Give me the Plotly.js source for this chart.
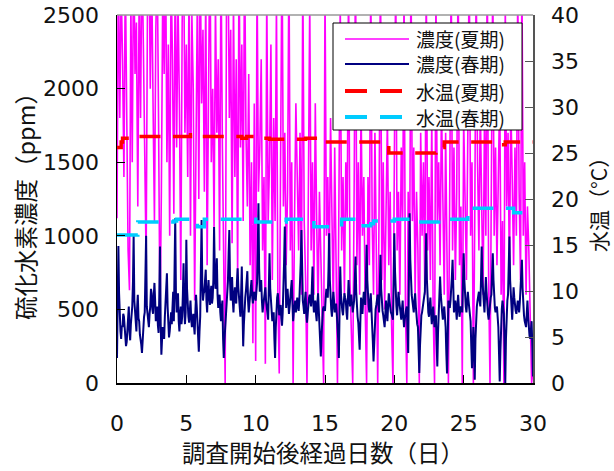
<!DOCTYPE html>
<html>
<head>
<meta charset="utf-8">
<script src="https://cdn.plot.ly/plotly-3.0.1.min.js"></script>
<style>
  html, body { margin: 0; padding: 0; background: #fff; }
  #chart { width: 614px; height: 471px; }
</style>
</head>
<body>
<div id="chart"></div>
<script>
// Sampling intervals of the concentration logs (days)
const SUMMER_STEP_DAYS = 0.1;
const SPRING_STEP_DAYS = 0.05;

// H2S concentration, summer campaign (ppm), one value per 0.1 day
const summerConc = [
  1120, 2900, 1800, 2700, 2200, 1400, 2800, 1900, 900, 630,
  2600, 1500, 3000, 2100, 2450, 1200, 2700, 1800, 2950, 2300,
  1600, 820, 2600, 3100, 2000, 2800, 1900, 1100, 2400, 2900,
  1750, 390, 1300, 2700, 2100, 3000, 1500, 2300, 1000, 2800,
  2200, 1150, 2900, 1600, 2600, 1900, 700, 2450, 3000, 1700,
  2300, 1400, 2800, 1000, 2500, 2000, 560, 1800, 2700, 1250,
  2900, 1900, 2400, 1300, 2700, 800, 2100, 3100, 1500, 2000,
  1050, 2600, 1700, 2200, 900, 2900, 1600, 700, 0, 2700,
  3000, 1800, 2400, 950, 2600, 1400, 2200, 720, 2900, 1600,
  2300, 1100, 3000, 1700, 1200, 2100, 800, 1500, 270, 1900,
  150, 2800, 1300, 1600, 2200, 900, 1400, 130, 2700, 1100,
  1500, 2300, 700, 1800, 1100, 2600, 600, 65, 1500, 3000,
  1200, 1700, 800, 1300, 2900, 900, 1500, 0, 1100, 1900,
  1400, 900, 1700, 600, 2800, 1100, 700, 0, 1300, 2600,
  900, 1500, 600, 1900, 1100, 500, 1300, 800, 300, 0,
  2700, 1000, 1400, 700, 1800, 1200, 500, 1600, 800, 0,
  1200, 2600, 900, 1400, 600, 1500, 1100, 2800, 700, 300,
  0, 1300, 2900, 800, 1500, 600, 1900, 1000, 1400, 500,
  0, 1400, 800, 2800, 1100, 600, 1700, 900, 0, 1200,
  2900, 700, 1500, 500, 1200, 1800, 800, 1300, 400, 0,
  1500, 2800, 900, 1300, 600, 1600, 1100, 2700, 500, 0,
  1300, 700, 2900, 1100, 1600, 600, 1300, 900, 0, 1700,
  1000, 1500, 600, 2800, 900, 1400, 700, 1800, 500, 0,
  2700, 1100, 1500, 800, 1900, 1300, 600, 1700, 1000, 0,
  1400, 2800, 900, 1600, 700, 1300, 2900, 800, 1200, 0,
  1800, 1300, 700, 1700, 2900, 1000, 1500, 0, 1100, 2800,
  1500, 900, 1900, 1200, 600, 1800, 1000, 2900, 700, 0,
  1400, 2800, 1000, 1600, 800, 1300, 2000, 600, 1100, 0,
  2600, 1200, 1700, 700, 1900, 1400, 800, 1600, 1000, 2700,
  1300, 700, 2800, 1000, 1500, 600, 1200, 900, 500, 0,
  80
];

// H2S concentration, spring campaign (ppm), one value per 0.05 day
const springConc = [
  170, 560, 930, 610, 420, 350, 300, 390, 380, 470, 450, 360, 330, 250, 280, 400, 460, 520, 350, 290,
  400, 470, 520, 680, 1000, 560, 480, 390, 350, 510, 600, 440, 420, 330, 300, 260, 204, 310, 360, 450,
  480, 760, 1000, 520, 450, 400, 380, 470, 520, 640, 610, 500, 470, 590, 680, 560, 420, 500, 520, 390,
  340, 600, 927, 410, 192, 300, 380, 330, 300, 450, 560, 640, 745, 520, 400, 310, 350, 420, 480, 400,
  560, 620, 420, 780, 1120, 620, 480, 550, 610, 420, 350, 470, 520, 400, 450, 600, 813, 520, 400, 480,
  973, 640, 520, 450, 410, 530, 560, 440, 380, 420, 470, 390, 330, 480, 600, 520, 420, 300, 213, 350,
  450, 780, 1108, 680, 560, 610, 620, 700, 770, 560, 480, 620, 700, 590, 530, 610, 660, 540, 580, 700,
  1060, 760, 640, 700, 848, 600, 510, 560, 600, 480, 420, 510, 560, 300, 170, 290, 380, 450, 520, 610,
  690, 880, 1040, 700, 560, 640, 720, 560, 480, 590, 650, 560, 540, 690, 780, 650, 600, 500, 450, 610,
  792, 500, 249, 400, 520, 580, 630, 700, 760, 560, 480, 540, 590, 660, 700, 590, 540, 600, 620, 580,
  560, 620, 680, 900, 1221, 780, 620, 680, 700, 560, 480, 530, 580, 640, 650, 560, 510, 470, 430, 650,
  882, 640, 560, 500, 420, 450, 480, 300, 170, 380, 520, 580, 610, 520, 460, 500, 530, 440, 390, 480,
  600, 820, 1063, 700, 510, 580, 640, 560, 470, 520, 560, 640, 700, 520, 420, 480, 520, 560, 480, 530,
  580, 520, 490, 560, 650, 820, 1040, 700, 560, 520, 470, 560, 620, 480, 410, 470, 540, 580, 600, 560,
  520, 640, 792, 560, 480, 520, 560, 470, 420, 540, 610, 500, 380, 260, 181, 320, 450, 500, 520, 500,
  490, 580, 640, 600, 580, 760, 1018, 700, 560, 500, 450, 540, 620, 560, 480, 520, 540, 470, 410, 300,
  170, 480, 792, 600, 520, 490, 460, 540, 610, 580, 560, 480, 430, 560, 700, 600, 520, 560, 600, 540,
  480, 520, 560, 700, 860, 620, 500, 450, 410, 300, 226, 420, 580, 520, 470, 560, 620, 580, 530, 700,
  939, 700, 560, 520, 480, 560, 610, 500, 420, 280, 147, 300, 450, 500, 530, 580, 600, 540, 480, 650,
  871, 640, 520, 490, 460, 420, 380, 470, 560, 480, 420, 520, 610, 560, 500, 480, 470, 450, 430, 700,
  1018, 760, 580, 520, 460, 540, 620, 560, 500, 460, 430, 500, 560, 450, 380, 430, 480, 500, 520, 380,
  204, 700, 1154, 840, 620, 600, 560, 520, 480, 560, 610, 520, 420, 400, 380, 200, 68, 250, 420, 460,
  480, 520, 560, 600, 620, 800, 1018, 700, 520, 480, 450, 520, 580, 480, 400, 460, 520, 450, 380, 420,
  460, 260, 113, 340, 540, 620, 724, 600, 560, 480, 430, 480, 520, 450, 380, 200, 65, 300, 560, 530,
  510, 560, 620, 720, 837, 620, 480, 520, 560, 500, 430, 520, 600, 520, 450, 490, 520, 500, 480, 680,
  882, 700, 560, 520, 480, 550, 620, 560, 500, 460, 420, 250, 100, 240, 380, 200, 23, 300, 470, 520,
  560, 590, 620, 560, 520, 700, 927, 700, 600, 540, 480, 600, 720, 620, 520, 470, 430, 500, 560, 580,
  600, 740, 882, 700, 540, 510, 480, 500, 520, 450, 380, 200, 11, 220, 420, 500, 560, 520, 470, 250,
  0, 300, 520, 560, 600, 800, 995, 700, 560, 490, 430, 540, 650, 580, 520, 490, 470, 520, 560, 520,
  480, 550, 620, 720, 837, 640, 500, 460, 420, 400, 380, 470, 560, 450, 340, 320, 300, 380, 420, 250,
  45
];

// Water temperature (°C): day on which each reading starts, and the reading
const summerTempDays = [0, 0.3, 0.4, 1.0, 5.3, 5.8, 9.0, 9.35, 10.2, 11.0, 13.6, 14.3, 19.2, 19.6, 23.0, 23.2, 23.6, 27.1, 28.0, 30];
const summerTemp     = [25.6, 26.2, 26.6, 26.8, 27.0, 26.8, 26.6, 26.8, 26.6, 26.5, 26.6, 26.2, 25.9, 25.0, 25.3, 25.6, 26.2, 25.9, 26.2, 26.2];
const springTempDays = [0, 1.5, 4.1, 4.3, 5.8, 6.3, 10.0, 12.2, 14.2, 16.2, 17.3, 18.3, 18.5, 20.0, 21.2, 23.2, 25.3, 28.6, 30];
const springTemp     = [16.1, 17.5, 17.6, 17.8, 17.0, 17.8, 17.5, 17.8, 17.0, 17.8, 17.1, 17.3, 17.6, 17.8, 17.5, 17.8, 19.0, 18.5, 18.5];

// Axis ticks
const dayTicks = [0, 5, 10, 15, 20, 25, 30];
const concTicks = [0, 500, 1000, 1500, 2000, 2500];
const tempTicks = [0, 5, 10, 15, 20, 25, 30, 35, 40];

// Labels
const seriesNames = ['濃度(夏期)', '濃度(春期)', '水温(夏期)', '水温(春期)'];
const xTitle = '調査開始後経過日数（日）';
const yTitle = '硫化水素濃度（ppm）';
const y2Title = '水温（°C）';

const FONT = '"Noto Sans CJK JP", "Noto Sans", sans-serif';
const NUM_FONT = '"DejaVu Sans", "Liberation Sans", sans-serif';
const MAGENTA = '#FF00FF', NAVY = '#000080', RED = '#FF0000', CYAN = '#00CCFF';
const TEMP_DASH = '21px,12.5px';

const summerDays = summerConc.map((_, i) => +(i * SUMMER_STEP_DAYS).toFixed(2));
const springDays = springConc.map((_, i) => +(i * SPRING_STEP_DAYS).toFixed(2));

// plot-area geometry in pixels (for the hand-placed legend and titles)
const W = 614, H = 471, L = 117, R = 533, T = 15, B = 383;
const px = x => (x - L) / (R - L);
const py = y => (B - y) / (B - T);

const traces = [
  { x: summerDays, y: summerConc, type: 'scatter', mode: 'lines', name: seriesNames[0],
    line: { color: MAGENTA, width: 1.6 }, yaxis: 'y' },
  { x: springDays, y: springConc, type: 'scatter', mode: 'lines', name: seriesNames[1],
    line: { color: NAVY, width: 2 }, yaxis: 'y' },
  { x: summerTempDays, y: summerTemp, type: 'scatter', mode: 'lines', name: seriesNames[2],
    line: { color: RED, width: 3.5, dash: TEMP_DASH, shape: 'hv' }, yaxis: 'y2' },
  { x: springTempDays, y: springTemp, type: 'scatter', mode: 'lines', name: seriesNames[3],
    line: { color: CYAN, width: 3.5, dash: TEMP_DASH, shape: 'hv' }, yaxis: 'y2' }
];

// legend drawn as shapes + annotations
const legendRows = [
  { y: 39, color: MAGENTA, width: 1.5, dash: 'solid', x1: 409 },
  { y: 64, color: NAVY, width: 2, dash: 'solid', x1: 409 },
  { y: 91, color: RED, width: 4, dash: '22px,13px', x1: 402 },
  { y: 117, color: CYAN, width: 4, dash: '22px,13px', x1: 402 }
];

const shapes = [
  // top frame edge
  { type: 'line', xref: 'paper', yref: 'paper', x0: 0, x1: 1, y0: 1, y1: 1,
    line: { color: '#999', width: 1.5 }, layer: 'above' },
  // legend box
  { type: 'rect', xref: 'paper', yref: 'paper', x0: px(333), x1: px(522), y0: py(23), y1: py(130),
    line: { color: '#000', width: 1 }, fillcolor: '#fff', layer: 'above' }
];
legendRows.forEach(r => shapes.push({
  type: 'line', xref: 'paper', yref: 'paper', x0: px(345), x1: px(r.x1), y0: py(r.y), y1: py(r.y),
  line: { color: r.color, width: r.width, dash: r.dash }, layer: 'above'
}));

const annotations = legendRows.map((r, i) => ({
  xref: 'paper', yref: 'paper', x: px(414), y: py(r.y), xanchor: 'left', yanchor: 'middle',
  text: seriesNames[i], showarrow: false, font: { family: FONT, size: 19, color: '#111' }
}));
annotations.push(
  { xref: 'paper', yref: 'paper', x: px(323), y: py(452), xanchor: 'center', yanchor: 'middle',
    text: xTitle, showarrow: false, font: { family: FONT, size: 23.5, color: '#111' } },
  { xref: 'paper', yref: 'paper', x: px(25), y: py(201), xanchor: 'center', yanchor: 'middle',
    text: yTitle, textangle: -90, showarrow: false, font: { family: FONT, size: 23.5, color: '#111' } },
  { xref: 'paper', yref: 'paper', x: px(598), y: py(200), xanchor: 'center', yanchor: 'middle',
    text: y2Title, textangle: -90, showarrow: false, font: { family: FONT, size: 21, color: '#111' } }
);

const axisCommon = {
  showgrid: false, zeroline: false, showline: true, ticks: 'inside', ticklen: 8,
  tickwidth: 1, tickfont: { family: NUM_FONT, size: 22, color: '#111' }, automargin: false
};

const layout = {
  width: W, height: H,
  margin: { l: L, r: W - R, t: T, b: H - B, pad: 0 },
  paper_bgcolor: '#fff', plot_bgcolor: '#fff',
  showlegend: false,
  font: { family: FONT, size: 22, color: '#111' },
  xaxis: Object.assign({}, axisCommon, {
    range: [0, 30], tickvals: dayTicks, linecolor: '#000', linewidth: 1.5, tickcolor: '#000',
    ticklabelstandoff: 20
  }),
  yaxis: Object.assign({}, axisCommon, {
    range: [0, 2500.5], tickvals: concTicks, linecolor: '#000', linewidth: 1.5, tickcolor: '#000',
    ticklabelstandoff: 12
  }),
  yaxis2: Object.assign({}, axisCommon, {
    range: [0, 40.008], tickvals: tempTicks, overlaying: 'y', side: 'right',
    linecolor: '#555', linewidth: 1.5, tickcolor: '#555', ticklabelstandoff: 12
  }),
  shapes: shapes,
  annotations: annotations
};

Plotly.newPlot('chart', traces, layout, { displayModeBar: false, staticPlot: true });
</script>
</body>
</html>
